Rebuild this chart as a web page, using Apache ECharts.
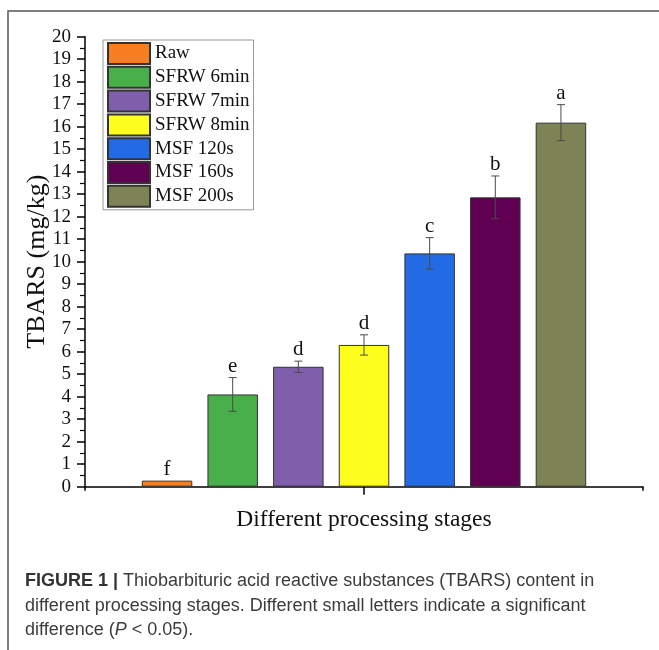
<!DOCTYPE html>
<html>
<head>
<meta charset="utf-8">
<script src="https://cdn.jsdelivr.net/npm/echarts@6/dist/echarts.min.js"></script>
<style>html,body{margin:0;padding:0;background:#fff;}#c{width:659px;height:650px;}</style>
</head>
<body>
<div id="c"></div>
<script>
var seriesNames = ['Raw', 'SFRW 6min', 'SFRW 7min', 'SFRW 8min', 'MSF 120s', 'MSF 160s', 'MSF 200s'];
var values = [0.27, 4.10, 5.33, 6.30, 10.37, 12.86, 16.18];
var errors = [0.0, 0.75, 0.25, 0.45, 0.70, 0.95, 0.80];
var letters = ['f', 'e', 'd', 'd', 'c', 'b', 'a'];
var categories = [''];
var colors = ['#F77F22', '#48AF4A', '#7F5EAB', '#FFFF1E', '#236BE4', '#5F0052', '#7E8356'];

var SERIF = '"Liberation Serif", "DejaVu Serif", serif';
var SANS = '"Liberation Sans", Arial, sans-serif';
var BAR_W = 50.5, BAR_GAP = 0.30;
var PITCH = BAR_W * (1 + BAR_GAP);

var chart = echarts.init(document.getElementById('c'), null, {renderer: 'canvas'});

var series = seriesNames.map(function (n, i) {
  return {
    name: n, type: 'bar', data: [values[i]],
    barWidth: BAR_W, barGap: (BAR_GAP * 100) + '%',
    itemStyle: {color: colors[i], borderColor: '#333', borderWidth: 1},
    emphasis: {disabled: true}
  };
});

var errData = values.map(function (v, i) {
  return [0, v - errors[i], v + errors[i], i];
});

series.push({
  type: 'custom', name: 'err', z: 10, silent: true,
  data: errData,
  encode: {x: 0, y: [1, 2]},
  renderItem: function (params, api) {
    var idx = api.value(3);
    var hiP = api.coord([0, api.value(2)]);
    var loP = api.coord([0, api.value(1)]);
    var x = hiP[0] + (idx - 3) * PITCH;
    var children = [];
    if (loP[1] - hiP[1] > 0.5) {
      var st = {stroke: '#4a4a4a', lineWidth: 1};
      children.push({type: 'line', shape: {x1: x, y1: hiP[1], x2: x, y2: loP[1]}, style: st});
      children.push({type: 'line', shape: {x1: x - 4, y1: hiP[1], x2: x + 4, y2: hiP[1]}, style: st});
      children.push({type: 'line', shape: {x1: x - 4, y1: loP[1], x2: x + 4, y2: loP[1]}, style: st});
    }
    children.push({
      type: 'text',
      x: x, y: hiP[1] - 1,
      style: {text: letters[idx], font: '21px ' + SERIF, fill: '#111', align: 'center', verticalAlign: 'bottom'}
    });
    return {type: 'group', children: children};
  }
});

var option = {
  backgroundColor: '#fff',
  animation: false,
  grid: {left: 85, right: 16, top: 36.7, bottom: 163.3, containLabel: false},
  legend: {
    data: seriesNames,
    orient: 'vertical', left: 103, top: 40,
    itemWidth: 42, itemHeight: 21, itemGap: 0.8,
    padding: [2, 4, 2, 4],
    borderColor: '#999', borderWidth: 1,
    icon: 'rect',
    textStyle: {fontFamily: SERIF, fontSize: 19, color: '#111'},
    selectedMode: false
  },
  xAxis: [{
    type: 'category', data: categories,
    name: 'Different processing stages', nameLocation: 'middle', nameGap: 21,
    nameTextStyle: {fontFamily: SERIF, fontSize: 23.5, color: '#111'},
    axisLine: {lineStyle: {color: '#000', width: 1.5}},
    axisTick: {show: true, length: 4, lineStyle: {color: '#000', width: 1.5}},
    axisLabel: {show: false}
  }, {
    type: 'category', data: categories, position: 'bottom',
    axisLine: {show: false},
    axisTick: {show: true, alignWithLabel: true, length: 8, lineStyle: {color: '#000', width: 1.5}},
    axisLabel: {show: false}
  }],
  yAxis: {
    type: 'value', min: 0, max: 20, interval: 1,
    name: 'TBARS (mg/kg)', nameLocation: 'middle', nameGap: 35,
    nameMoveOverlap: false,
    nameTextStyle: {fontFamily: SERIF, fontSize: 26, color: '#111'},
    axisLine: {show: true, lineStyle: {color: '#000', width: 1.5}},
    axisTick: {show: true, length: 8, lineStyle: {color: '#000', width: 1.5}},
    minorTick: {show: true, splitNumber: 2, length: 5, lineStyle: {color: '#000', width: 1.2}},
    splitLine: {show: false},
    axisLabel: {fontFamily: SERIF, fontSize: 19, color: '#111', margin: 14}
  },
  series: series,
  graphic: [
    {
      type: 'polyline', silent: true,
      shape: {points: [[8, 650], [8, 11], [659, 11]]},
      style: {stroke: '#555', lineWidth: 1.5, fill: null}
    },
    {
      type: 'text', left: 25, top: 569, silent: true,
      style: {
        text: '{b|FIGURE 1 |} Thiobarbituric acid reactive substances (TBARS) content in\ndifferent processing stages. Different small letters indicate a significant\ndifference ({i|P} < 0.05).',
        font: '18px ' + SANS,
        fill: '#3c3c3c', lineHeight: 24.5,
        rich: {
          b: {fontWeight: 'bold', fontSize: 18, fontFamily: SANS, fill: '#333', lineHeight: 24.5},
          i: {fontStyle: 'italic', fontSize: 18, fontFamily: SANS, fill: '#3c3c3c', lineHeight: 24.5}
        }
      }
    }
  ]
};
chart.setOption(option);
</script>
</body>
</html>
